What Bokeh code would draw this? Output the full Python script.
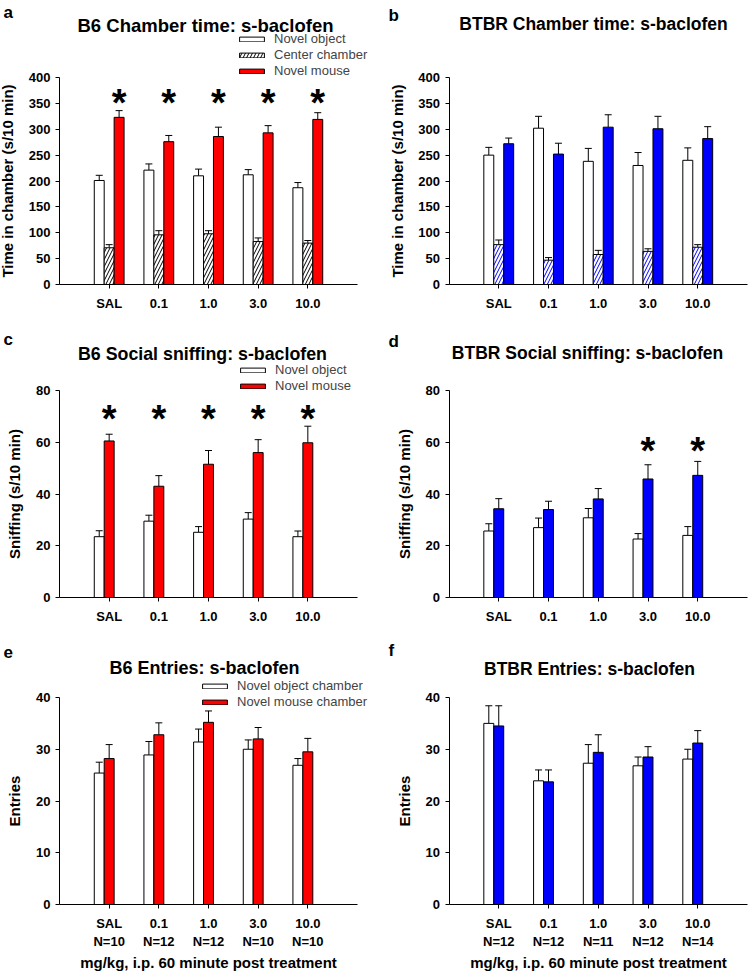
import numpy as np
from bokeh.plotting import figure
from bokeh.models import (Range1d, FixedTicker, Legend, LegendItem, Label,
                          Whisker, TeeHead, ColumnDataSource)
from bokeh.layouts import column, row
from bokeh.core.properties import value
from bokeh.embed import file_html
from bokeh.resources import INLINE

# ---------------- data ----------------
doses = ["SAL", "0.1", "1.0", "3.0", "10.0"]
n_b6 = [10, 12, 12, 10, 10]
n_btbr = [12, 12, 11, 12, 14]

# a: B6 chamber time
a_obj = [201, 221, 210, 212, 187]
a_obj_err = [10, 12, 13, 10, 10]
a_ctr = [71, 96, 98, 83, 80]
a_ctr_err = [6, 8, 6, 7, 5]
a_mouse = [323, 276, 286, 293, 319]
a_mouse_err = [13, 12, 18, 14, 13]
a_sig = [True, True, True, True, True]

# b: BTBR chamber time
b_obj = [250, 302, 238, 230, 240]
b_obj_err = [15, 23, 25, 25, 24]
b_ctr = [77, 47, 58, 64, 72]
b_ctr_err = [9, 5, 8, 5, 5]
b_mouse = [272, 252, 304, 301, 282]
b_mouse_err = [11, 21, 24, 24, 23]
b_sig = [False, False, False, False, False]

# c: B6 social sniffing
c_obj = [23.5, 29.5, 25.2, 30.3, 23.5]
c_obj_err = [2.3, 2.3, 2.2, 2.5, 2.2]
c_mouse = [60.5, 43.0, 51.5, 56.0, 59.8]
c_mouse_err = [2.6, 4.1, 5.3, 5.0, 6.4]
c_sig = [True, True, True, True, True]

# d: BTBR social sniffing
d_obj = [25.7, 27.0, 30.8, 22.6, 24.0]
d_obj_err = [2.8, 3.7, 3.6, 2.1, 3.4]
d_mouse = [34.3, 34.0, 38.1, 45.8, 47.2]
d_mouse_err = [3.9, 3.2, 4.0, 5.5, 5.4]
d_sig = [False, False, False, True, True]

# e: B6 entries
e_obj = [25.4, 28.9, 31.4, 30.0, 26.9]
e_obj_err = [2.1, 2.6, 2.5, 1.8, 1.3]
e_mouse = [28.2, 32.8, 35.2, 32.0, 29.5]
e_mouse_err = [2.7, 2.3, 2.2, 2.2, 2.6]

# f: BTBR entries
f_obj = [35.0, 23.9, 27.3, 26.8, 28.1]
f_obj_err = [3.4, 2.1, 3.6, 1.7, 1.9]
f_mouse = [34.5, 23.7, 29.4, 28.5, 31.2]
f_mouse_err = [3.9, 2.3, 3.4, 2.0, 2.4]

# ---------------- style / layout ----------------
FONT = "Liberation Sans"
RED = "#ff0000"
BLUE = "#0000ff"
BW = 0.2

FIG_X = [0, 375]
FIG_W = [375, 373]
FIG_Y = [0, 313, 628]
FIG_H = [313, 315, 343]
# plot areas in picture coordinates
AREA_X = [(59, 357), (448.5, 747)]
AREA_Y = [(77, 284), (390, 597), (697, 904)]


def make_panel(ci, ri, ymax, ystep, ylabel, series, letter_pos, letter, title_pos, title,
               title_size, ticklabels, xlabel=None, sig=None, sig_y=None, legend_pos=None):
    fx, fy, W, H = FIG_X[ci], FIG_Y[ri], FIG_W[ci], FIG_H[ri]
    pl, pr = AREA_X[ci]
    pt, pb = AREA_Y[ri]
    sx = 6.0 / (pr - pl)
    sy = ymax / (pb - pt)
    x0 = -1 - (pl - fx) * sx
    y1 = ymax + (pt - fy) * sy

    def X(px):
        return x0 + (px - fx) * sx

    def Y(py):
        return y1 - (py - fy) * sy

    p = figure(width=W, height=H, output_backend="svg", toolbar_location=None,
               x_range=Range1d(x0, x0 + W * sx), y_range=Range1d(y1 - H * sy, y1),
               min_border=0)
    p.title.visible = False
    p.outline_line_color = None
    p.grid.visible = False
    p.background_fill_color = "white"

    for ax in (p.xaxis[0], p.yaxis[0]):
        ax.axis_line_color = "black"
        ax.axis_line_width = 1
        ax.major_tick_line_color = "black"
        ax.major_tick_out = 4
        ax.major_tick_in = 0
        ax.minor_tick_out = 0
        ax.minor_tick_in = 0
        ax.major_label_text_font = FONT
        ax.major_label_text_font_style = "bold"
        ax.major_label_text_font_size = "13px"
        ax.major_label_text_color = "black"
        ax.axis_label_text_font = FONT
        ax.axis_label_text_font_style = "bold"
        ax.axis_label_text_font_size = "15px"
        ax.axis_label_text_color = "black"

    p.xaxis.fixed_location = 0
    p.xaxis.bounds = (-1, 5)
    p.xaxis.ticker = FixedTicker(ticks=list(range(len(ticklabels))))
    p.xaxis.major_label_overrides = {i: t for i, t in enumerate(ticklabels)}
    p.xaxis.major_label_standoff = 7
    if xlabel:
        p.xaxis.axis_label = xlabel
        p.xaxis.axis_label_standoff = 2
    p.yaxis.fixed_location = -1
    p.yaxis.bounds = (0, ymax)
    p.yaxis.ticker = FixedTicker(ticks=list(range(0, ymax + 1, ystep)))
    p.yaxis.major_label_standoff = 5
    p.yaxis.axis_label = ylabel
    p.yaxis.axis_label_standoff = 10

    xs = np.arange(len(ticklabels))
    renderers = []
    for k, s in enumerate(series):
        off = (k - 1) * BW
        vals = np.array(s["vals"], dtype=float)
        errs = np.array(s["errs"], dtype=float)
        src = ColumnDataSource(dict(x=xs + off, top=vals, up=vals + errs))
        kw = dict(fill_color=s["fill"], line_color="black", line_width=1)
        if s.get("hatch"):
            kw.update(hatch_pattern="/", hatch_color=s["hatch"], hatch_scale=7, hatch_weight=1)
        rr = p.vbar(x="x", top="top", bottom=0, width=BW, source=src, **kw)
        renderers.append((s["name"], rr))
        p.add_layout(Whisker(source=src, base="x", lower="top", upper="up", dimension="height",
                             line_color="black", line_width=1, lower_head=None,
                             upper_head=TeeHead(size=7, line_color="black", line_width=1)))

    if sig is not None:
        sxs = [xs[i] + (len(series) - 2) * BW for i in range(len(sig)) if sig[i]]
        if sxs:
            p.text(x=sxs, y=[Y(sig_y + 8)] * len(sxs), text=["*"] * len(sxs),
                   text_font=value(FONT), text_font_style="bold", text_font_size="38px",
                   text_align="center", text_baseline="middle", text_color="black")

    if legend_pos is not None:
        lx, ly = legend_pos
        leg = Legend(items=[LegendItem(label=n, renderers=[rr]) for n, rr in renderers],
                     location=(lx - fx, fy + H - ly), glyph_width=31, glyph_height=6,
                     label_standoff=7, label_text_font=FONT, label_text_font_size="13px",
                     label_height=15, spacing=1, padding=0, margin=0,
                     border_line_color=None, background_fill_alpha=0)
        p.add_layout(leg)

    tx, ty = title_pos
    p.add_layout(Label(x=X(tx), y=Y(ty), text=title, text_align="center",
                       text_baseline="middle", text_font=FONT, text_font_style="bold",
                       text_font_size=title_size, text_color="black"))
    gx, gy = letter_pos
    p.add_layout(Label(x=X(gx), y=Y(gy), text=letter, text_align="left",
                       text_baseline="middle", text_font=FONT, text_font_style="bold",
                       text_font_size="17px", text_color="black"))
    return p


def S(name, vals, errs, fill, hatch=None):
    return dict(name=name, vals=vals, errs=errs, fill=fill, hatch=hatch)


lab_e = [f"{d}\nN={n}" for d, n in zip(doses, n_b6)]
lab_f = [f"{d}\nN={n}" for d, n in zip(doses, n_btbr)]
XL = "mg/kg, i.p. 60 minute post treatment"

pa = make_panel(0, 0, 400, 50, "Time in chamber (s/10 min)",
                [S("Novel object", a_obj, a_obj_err, "white"),
                 S("Center chamber", a_ctr, a_ctr_err, "white", "black"),
                 S("Novel mouse", a_mouse, a_mouse_err, RED)],
                (3, 12), "a", (205, 25), "B6 Chamber time: s-baclofen", "18.5px", doses,
                sig=a_sig, sig_y=94, legend_pos=(236, 78))
pb = make_panel(1, 0, 400, 50, "Time in chamber (s/10 min)",
                [S("Novel object", b_obj, b_obj_err, "white"),
                 S("Center chamber", b_ctr, b_ctr_err, "white", BLUE),
                 S("Novel mouse", b_mouse, b_mouse_err, BLUE)],
                (388, 15), "b", (593, 23), "BTBR Chamber time: s-baclofen", "17.5px", doses,
                sig=b_sig, sig_y=94)
pc = make_panel(0, 1, 80, 20, "Sniffing (s/10 min)",
                [S("Novel object", c_obj, c_obj_err, "white"),
                 S("Novel mouse", c_mouse, c_mouse_err, RED)],
                (3, 339), "c", (202, 353), "B6 Social sniffing: s-baclofen", "17.8px", doses,
                sig=c_sig, sig_y=410, legend_pos=(237, 393))
pd_ = make_panel(1, 1, 80, 20, "Sniffing (s/10 min)",
                 [S("Novel object", d_obj, d_obj_err, "white"),
                  S("Novel mouse", d_mouse, d_mouse_err, BLUE)],
                 (388, 341), "d", (587, 352), "BTBR Social sniffing: s-baclofen", "17.5px", doses,
                 sig=d_sig, sig_y=442)
pe = make_panel(0, 2, 40, 10, "Entries",
                [S("Novel object chamber", e_obj, e_obj_err, "white"),
                 S("Novel mouse chamber", e_mouse, e_mouse_err, RED)],
                (3, 651), "e", (204, 667), "B6 Entries: s-baclofen", "18px", lab_e, xlabel=XL,
                legend_pos=(199, 709))
pf = make_panel(1, 2, 40, 10, "Entries",
                [S("Novel object chamber", f_obj, f_obj_err, "white"),
                 S("Novel mouse chamber", f_mouse, f_mouse_err, BLUE)],
                (388, 650), "f", (589, 668), "BTBR Entries: s-baclofen", "17.5px", lab_f, xlabel=XL)

layout = column(row(pa, pb), row(pc, pd_), row(pe, pf))
open("out.html", "w").write(file_html(layout, INLINE))
